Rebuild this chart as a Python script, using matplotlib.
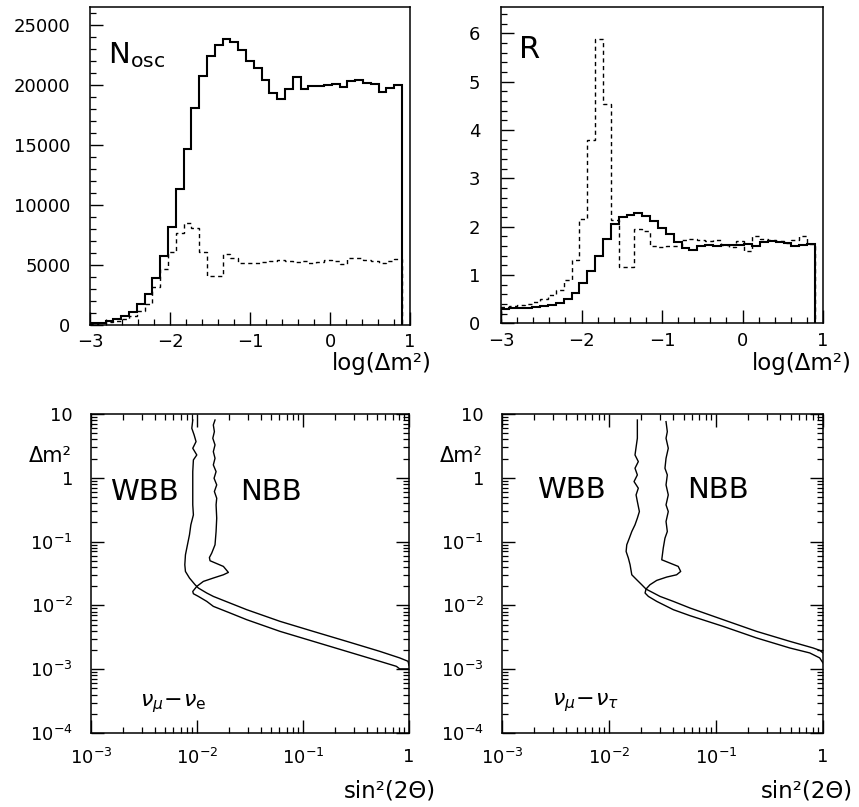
import numpy as np
import matplotlib
matplotlib.use("Agg")
import matplotlib.pyplot as plt
from matplotlib.ticker import MultipleLocator, LogLocator, NullFormatter, FuncFormatter

plt.rcParams['font.family'] = ['DejaVu Sans']
plt.rcParams['mathtext.fontset'] = 'dejavusans'

# histogram binning: 40 bins in log(dm^2) between -3 and 0.9
bin_lo, bin_hi, n_bins = -3.0, 0.9, 40

# N_osc, solid and dashed histograms
nosc_solid = [140, 200, 330, 470, 780, 1110, 1720, 2580, 3940, 5750,
              8190, 11330, 14640, 18030, 20750, 22360, 23330, 23800, 23560, 22860,
              22000, 21390, 20420, 19310, 18830, 19640, 20640, 19640, 19920, 19920,
              19940, 20050, 19780, 20280, 20360, 20140, 20080, 19360, 19720, 20000]
nosc_dashed = [80, 150, 220, 320, 480, 750, 1200, 1750, 3200, 4700,
               6100, 7640, 8530, 8050, 6100, 4080, 4080, 5920, 5560, 5200,
               5150, 5200, 5250, 5300, 5450, 5300, 5250, 5350, 5200, 5250,
               5450, 5300, 5100, 5550, 5600, 5400, 5300, 5200, 5350, 5500]

# R, solid and dashed histograms
r_solid = [0.30, 0.31, 0.31, 0.32, 0.33, 0.35, 0.38, 0.42, 0.50, 0.62,
           0.83, 1.08, 1.40, 1.74, 2.05, 2.19, 2.25, 2.29, 2.23, 2.12,
           1.98, 1.84, 1.68, 1.56, 1.51, 1.59, 1.63, 1.59, 1.61, 1.62,
           1.63, 1.64, 1.60, 1.69, 1.70, 1.68, 1.66, 1.60, 1.62, 1.65]
r_dashed = [0.34, 0.35, 0.37, 0.39, 0.44, 0.51, 0.58, 0.68, 0.89, 1.30,
            2.16, 3.79, 5.88, 4.54, 2.13, 1.17, 1.17, 1.95, 1.90, 1.59,
            1.58, 1.60, 1.60, 1.72, 1.75, 1.72, 1.70, 1.72, 1.62, 1.58,
            1.70, 1.50, 1.80, 1.75, 1.72, 1.70, 1.66, 1.72, 1.80, 1.65]

# exclusion contours, log10(sin^2 2theta) and log10(dm^2)
# nu_mu - nu_e
wbb_e_x = [-2.040, -2.049, -2.027, -2.009, -2.040, -2.002, -2.034, -2.040, -2.040, -2.040,
           -2.034, -2.058, -2.071, -2.090, -2.109, -2.115, -2.109, -2.071, -2.018, -1.987,
           -1.908, -1.846, -1.751, -1.531, -1.217, -0.904, -0.589, -0.276, -0.088, -0.009, 0.0]
wbb_e_y = [0.906, 0.776, 0.671, 0.567, 0.463, 0.358, 0.280, 0.097, -0.163, -0.424,
           -0.581, -0.737, -0.894, -1.050, -1.207, -1.363, -1.468, -1.571, -1.676, -1.728,
           -1.806, -1.859, -1.922, -2.067, -2.250, -2.407, -2.563, -2.720, -2.823, -2.876, -2.94]
nbb_e_x = [-1.830, -1.846, -1.836, -1.851, -1.830, -1.846, -1.830, -1.846, -1.820, -1.839,
           -1.814, -1.836, -1.814, -1.820, -1.814, -1.820, -1.830, -1.861, -1.883, -1.877,
           -1.751, -1.704, -1.751, -1.846, -1.940, -2.002, -2.040, -2.034, -1.987, -1.908,
           -1.846, -1.688, -1.531, -1.217, -0.904, -0.589, -0.276, -0.119, -0.088, 0.0]
nbb_e_y = [0.906, 0.828, 0.723, 0.620, 0.515, 0.410, 0.306, 0.202, 0.097, -0.007,
           -0.111, -0.215, -0.320, -0.424, -0.633, -0.842, -1.050, -1.180, -1.250, -1.300,
           -1.389, -1.483, -1.520, -1.571, -1.624, -1.702, -1.781, -1.817, -1.859, -1.937,
           -2.015, -2.119, -2.224, -2.407, -2.563, -2.720, -2.876, -2.955, -2.995, -2.995]
# nu_mu - nu_tau
wbb_t_x = [-1.735, -1.735, -1.757, -1.726, -1.757, -1.735, -1.766, -1.726, -1.747, -1.735,
           -1.716, -1.735, -1.757, -1.787, -1.810, -1.834, -1.840, -1.819, -1.803, -1.787,
           -1.741, -1.694, -1.654, -1.523, -1.399, -1.243, -0.933, -0.621, -0.311, -0.093,
           -0.031, 0.0]
wbb_t_y = [0.906, 0.620, 0.358, 0.254, 0.150, 0.045, -0.059, -0.163, -0.268, -0.372,
           -0.529, -0.633, -0.737, -0.842, -0.946, -1.050, -1.155, -1.259, -1.363, -1.520,
           -1.598, -1.676, -1.744, -1.859, -1.937, -2.041, -2.224, -2.407, -2.563, -2.667,
           -2.704, -2.745]
nbb_t_x = [-1.467, -1.455, -1.467, -1.446, -1.467, -1.477, -1.455, -1.467, -1.446, -1.467,
           -1.446, -1.467, -1.455, -1.477, -1.493, -1.507, -1.430, -1.353, -1.330, -1.368,
           -1.461, -1.554, -1.617, -1.654, -1.663, -1.632, -1.554, -1.399, -1.243, -0.933,
           -0.621, -0.311, -0.124, -0.031, 0.0]
nbb_t_y = [0.880, 0.723, 0.620, 0.463, 0.306, 0.150, 0.045, -0.111, -0.268, -0.424,
           -0.529, -0.685, -0.842, -0.946, -1.102, -1.285, -1.337, -1.389, -1.468, -1.520,
           -1.556, -1.608, -1.676, -1.744, -1.806, -1.859, -1.937, -2.067, -2.161, -2.329,
           -2.510, -2.667, -2.745, -2.823, -2.902]

W, H = 859, 807


def box(l, t, r, b):
    return [l / W, 1 - b / H, (r - l) / W, (b - t) / H]


def style(ax, fs=13):
    for s in ax.spines.values():
        s.set_linewidth(1.1)
    ax.tick_params(which='both', direction='in', labelsize=fs)
    ax.tick_params(which='major', length=9.5, width=1.0)
    ax.tick_params(which='minor', length=4.5, width=0.9)


edges = np.linspace(bin_lo, bin_hi, n_bins + 1)
fig = plt.figure(figsize=(W / 100, H / 100), dpi=100)

# top left: N_osc
ax1 = fig.add_axes(box(90, 6.7, 410, 325))
ax1.stairs(nosc_solid, edges, baseline=0, color='k', lw=1.5)
ax1.stairs(nosc_dashed, edges, baseline=0, color='k', lw=1.0, ls=(0, (3, 2.5)))
ax1.set_xlim(-3, 1)
ax1.set_ylim(0, 26500)
ax1.xaxis.set_major_locator(MultipleLocator(1))
ax1.xaxis.set_minor_locator(MultipleLocator(0.2))
ax1.yaxis.set_major_locator(MultipleLocator(5000))
ax1.yaxis.set_minor_locator(MultipleLocator(1000))
style(ax1)
ax1.tick_params(axis='y', which='both', pad=14)
ax1.tick_params(axis='x', which='both', pad=6)
ax1.text(0.056, 0.824, r'$\mathregular{N_{osc}}$', transform=ax1.transAxes,
         fontsize=21, va='baseline')
fig.text(432 / W, 1 - 370 / H, 'log(Δm²)', fontsize=16.5, ha='right', va='baseline')

# top right: R
ax2 = fig.add_axes(box(501, 6.7, 823, 323.3))
ax2.stairs(r_solid, edges, baseline=0, color='k', lw=1.5)
ax2.stairs(r_dashed, edges, baseline=0, color='k', lw=1.0, ls=(0, (3, 2.5)))
ax2.set_xlim(-3, 1)
ax2.set_ylim(0, 6.55)
ax2.xaxis.set_major_locator(MultipleLocator(1))
ax2.xaxis.set_minor_locator(MultipleLocator(0.2))
ax2.yaxis.set_major_locator(MultipleLocator(1))
ax2.yaxis.set_minor_locator(MultipleLocator(0.2))
style(ax2)
ax2.tick_params(axis='y', which='both', pad=15)
ax2.tick_params(axis='x', which='both', pad=6)
ax2.text(0.056, 0.839, 'R', transform=ax2.transAxes, fontsize=22, va='baseline')
fig.text(852 / W, 1 - 370 / H, 'log(Δm²)', fontsize=16.5, ha='right', va='baseline')


def decade(v, pos):
    e = int(round(np.log10(v)))
    if e == 0:
        return '1'
    if e == 1:
        return '10'
    return r'$10^{%d}$' % e


def contour_panel(rect, wx, wy, nx, ny, chan, pos_w, pos_n, pos_c, xlab_right):
    ax = fig.add_axes(rect)
    ax.plot(10 ** np.array(wx), 10 ** np.array(wy), color='k', lw=1.0)
    ax.plot(10 ** np.array(nx), 10 ** np.array(ny), color='k', lw=1.0)
    ax.set_xscale('log')
    ax.set_yscale('log')
    ax.set_xlim(1e-3, 1)
    ax.set_ylim(1e-4, 10)
    for a in (ax.xaxis, ax.yaxis):
        a.set_major_locator(LogLocator(base=10, numticks=12))
        a.set_minor_locator(LogLocator(base=10, subs=np.arange(2, 10), numticks=12))
        a.set_major_formatter(FuncFormatter(decade))
        a.set_minor_formatter(NullFormatter())
    style(ax)
    ax.tick_params(which='both', top=True, right=True)
    ax.tick_params(axis='y', which='both', pad=13)
    ax.tick_params(axis='x', which='both', pad=11)
    ax.text(pos_w[0], pos_w[1], 'WBB', transform=ax.transAxes, fontsize=21, va='baseline')
    ax.text(pos_n[0], pos_n[1], 'NBB', transform=ax.transAxes, fontsize=21, va='baseline')
    ax.text(pos_c[0], pos_c[1], chan, transform=ax.transAxes, fontsize=16, va='baseline')
    fig.text(xlab_right / W, 1 - 798 / H, 'sin²(2Θ)', fontsize=16.5, ha='right', va='baseline')
    l = rect[0] * W
    fig.text((l - 19) / W, 1 - 462 / H, 'Δm²', fontsize=15, ha='right', va='baseline')
    return ax


contour_panel(box(91, 414, 409, 733), wbb_e_x, wbb_e_y, nbb_e_x, nbb_e_y,
              r'$\nu_\mu\!-\!\nu_{\mathregular{e}}$',
              (0.06, 0.73), (0.469, 0.73), (0.154, 0.082), 436)
contour_panel(box(502, 414, 823, 733), wbb_t_x, wbb_t_y, nbb_t_x, nbb_t_y,
              r'$\nu_\mu\!-\!\nu_\tau$',
              (0.109, 0.737), (0.576, 0.737), (0.156, 0.088), 853)

fig.savefig('out.png', dpi=100)
